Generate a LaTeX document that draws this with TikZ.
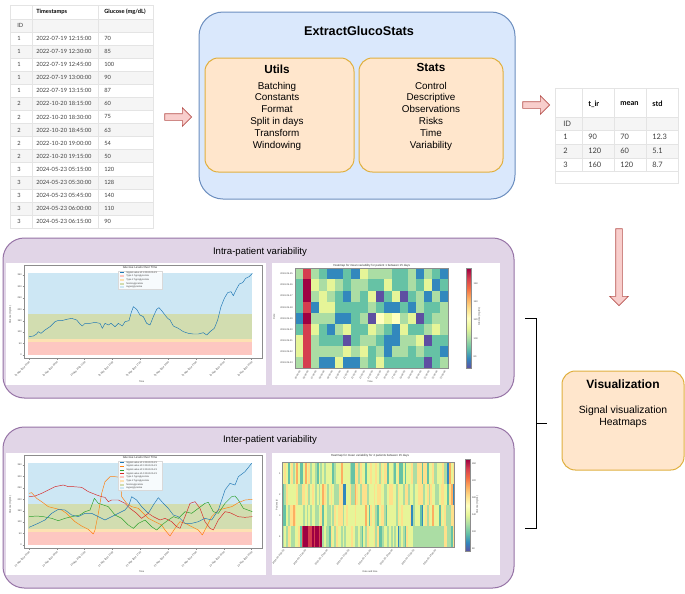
\documentclass[tikz,border=0pt]{standalone}
\usepackage{fontspec}
\setmainfont{Liberation Sans}
\newfontfamily\tblfont{Lato}
\usetikzlibrary{shapes.arrows}

\definecolor{egsfill}{HTML}{DAE8FC}
\definecolor{egsline}{HTML}{6C8EBF}
\definecolor{modfill}{HTML}{FFE6CC}
\definecolor{modline}{HTML}{E0B040}
\definecolor{panfill}{HTML}{E1D5E7}
\definecolor{panline}{HTML}{9673A6}
\definecolor{arrfill}{HTML}{F8CECC}
\definecolor{arrline}{HTML}{B85450}
\definecolor{rowgray}{HTML}{F5F5F5}
\definecolor{rowline}{HTML}{E4E4E4}
% glucose bands
\definecolor{hyper}{HTML}{CDE7F4}
\definecolor{normo}{HTML}{D2DDB0}
\definecolor{hypoa}{HTML}{FDE1B2}
\definecolor{hypob}{HTML}{FDC7C1}
\definecolor{sigA}{HTML}{1F77B4}
\definecolor{sigB}{HTML}{FF7F0E}
\definecolor{sigC}{HTML}{2CA02C}
\definecolor{sigD}{HTML}{D62728}
% spectral map, low to high
\definecolor{hm0}{HTML}{5E4FA2}
\definecolor{hm1}{HTML}{3288BD}
\definecolor{hm2}{HTML}{66C2A5}
\definecolor{hm3}{HTML}{ABDDA4}
\definecolor{hm4}{HTML}{E6F598}
\definecolor{hm5}{HTML}{FFFFBF}
\definecolor{hm6}{HTML}{FEE08B}
\definecolor{hm7}{HTML}{FDAE61}
\definecolor{hm8}{HTML}{F46D43}
\definecolor{hm9}{HTML}{D53E4F}
\definecolor{hm10}{HTML}{9E0142}
\pgfdeclareverticalshading{spectral}{100bp}{color(0bp)=(hm0); color(25bp)=(hm0);
  color(30bp)=(hm1); color(35bp)=(hm2); color(40bp)=(hm3); color(45bp)=(hm4);
  color(50bp)=(hm5); color(55bp)=(hm6); color(60bp)=(hm7); color(65bp)=(hm8);
  color(70bp)=(hm9); color(75bp)=(hm10); color(100bp)=(hm10)}

% axes and bands of a glucose plot, in zoom units
\newcommand{\glucoframe}[2]{%
  \fill[white] (3,9) rectangle (782,375);
  \fill[hyper] (70,38) rectangle (742,162);
  \fill[normo] (70,162) rectangle (742,237);
  \fill[hypoa] (70,237) rectangle (742,247);
  \fill[hypob] (70,247) rectangle (742,285);
  \draw[spine] (57,15) rectangle (772,295);
  \node[tinytitle] (#1-ttl) at (405,21) {Glucose Levels Over Time};
  \foreach \v [count=\j] in {0,50,...,350}{
    \draw[spine] (53,{285-0.686*\v}) -- (57,{285-0.686*\v});
    \node[tinytext, anchor=east] (#1-y\j) at (52,{285-0.686*\v}) {\v};
  }
  \foreach \k in {0,...,8}{
    \pgfmathtruncatemacro{\hh}{mod(#2+3*\k,24)}
    \draw[spine] ({72+83.5*\k},295) -- ++(0,4);
    \node[tinytext, rotate=45, anchor=north east] (#1-x\k) at ({72+83.5*\k},301) {23 May 2024 \ifnum\hh<10 0\fi\hh:00};
  }
  \node[tinytext] (#1-xl) at (410,364) {Time};
  \node[tinytext, rotate=90] (#1-yl) at (16,165) {Glucose (mg/dL)};
}

\begin{document}
\begin{tikzpicture}[x=0.75pt,y=-0.75pt,
    tbl/.style={font=\tblfont\fontsize{4.3}{5}\selectfont, text=black!75, anchor=west, inner sep=0pt},
    tblhead/.style={tbl, font=\tblfont\bfseries\fontsize{4.3}{5}\selectfont, text=black},
    rtbl/.style={tbl, font=\tblfont\fontsize{5.6}{6.5}\selectfont},
    rtblhead/.style={tbl, font=\tblfont\bfseries\fontsize{5.6}{6.5}\selectfont, text=black},
    rowsep/.style={draw=rowline, line width=0.4pt},
    egsbox/.style={draw=egsline, fill=egsfill, line width=0.75pt, rounded corners=18pt},
    modbox/.style={draw=modline, fill=modfill, line width=0.75pt, rounded corners=10pt},
    panel/.style={draw=panline, fill=panfill, line width=0.75pt, rounded corners=16pt},
    maintitle/.style={font=\bfseries\fontsize{9.5}{11}\selectfont},
    modtitle/.style={font=\bfseries\fontsize{8.8}{10}\selectfont},
    items/.style={font=\fontsize{7.4}{8.85}\selectfont, align=center},
    pantitle/.style={font=\fontsize{7.2}{8.5}\selectfont},
    blockarrow/.style={single arrow, draw=arrline, fill=arrfill, line width=0.5pt,
      inner sep=2.25pt, single arrow head extend=4.5pt, minimum width=13.5pt},
    bracket/.style={line width=0.75pt, black},
    spine/.style={draw=black!45, line width=0.3pt},
    tinytext/.style={font=\fontsize{1.8}{2}\selectfont, inner sep=0.3pt, text=black!75},
    tinytitle/.style={font=\fontsize{2.2}{2.5}\selectfont, inner sep=0.3pt, text=black!80},
    legbox/.style={draw=black!15, fill=white, fill opacity=0.85, line width=0.2pt},
    sig/.style={line width=0.35pt, line join=round},
  ]
  \fill[white] (0,0) rectangle (685,593);
  \useasboundingbox (0,0) rectangle (685,593);

  % input table
  \fill[white] (10,5) rectangle (153,228);
  \fill[rowgray] (10,19) rectangle (153,32);
  \foreach \i in {2,4,...,14} \fill[rowgray] (10,{32+(\i-1)*13.07}) rectangle (153,{32+\i*13.07});
  \foreach \i in {0,...,14} \draw[rowsep] (10,{32+\i*13.07}) -- (153,{32+\i*13.07});
  \draw[rowsep] (10,19) -- (153,19);
  \draw[rowsep] (32,5) -- (32,228) (98,5) -- (98,228);
  \draw[rowsep] (10,5) rectangle (153,228);
  \node[tblhead] (in-ts) at (36,12) {Timestamps};
  \node[tblhead] (in-gl) at (104,12) {Glucose (mg/dL)};
  \node[tbl] (in-id) at (17,25.5) {ID};
  \foreach \p/\ts/\g [count=\i] in {1/2022-07-19 12:15:00/70, 1/2022-07-19 12:30:00/85,
      1/2022-07-19 12:45:00/100, 1/2022-07-19 13:00:00/90, 1/2022-07-19 13:15:00/87,
      2/2022-10-20 18:15:00/60, 2/2022-10-20 18:30:00/75, 2/2022-10-20 18:45:00/63,
      2/2022-10-20 19:00:00/54, 2/2022-10-20 19:15:00/50, 3/2024-05-23 05:15:00/120,
      3/2024-05-23 05:30:00/128, 3/2024-05-23 05:45:00/140, 3/2024-05-23 06:00:00/110,
      3/2024-05-23 06:15:00/90}{
    \node[tbl] (in-p\i) at (17,{32+(\i-0.5)*13.07}) {\p};
    \node[tbl] (in-t\i) at (36,{32+(\i-0.5)*13.07}) {\ts};
    \node[tbl] (in-g\i) at (104,{32+(\i-0.5)*13.07}) {\g};
  }

  % package box
  \node[egsbox, minimum width=237pt, minimum height=140.25pt] (egs) at (357,105.5) {};
  \node[maintitle] (egs-t) at (359,31) {ExtractGlucoStats};
  \node[modbox, minimum width=111.75pt, minimum height=85.5pt] (utils) at (279.5,115) {};
  \node[modtitle] (utils-t) at (277,69) {Utils};
  \node[items] (utils-l) at (277,116) {Batching\\Constants\\Format\\Split in days\\Transform\\Windowing};
  \node[modbox, minimum width=108pt, minimum height=85.5pt] (stats) at (431,115) {};
  \node[modtitle] (stats-t) at (431,67) {Stats};
  \node[items] (stats-l) at (431,116) {Control\\Descriptive\\Observations\\Risks\\Time\\Variability};

  % output table
  \fill[white] (555,88) rectangle (678,183);
  \fill[rowgray] (555,117) rectangle (678,130);
  \fill[rowgray] (555,144) rectangle (678,158);
  \foreach \y in {117,130,144,158,171} \draw[rowsep] (555,\y) -- (678,\y);
  \draw[rowsep] (582,88) -- (582,171) (614,88) -- (614,171) (646,88) -- (646,171);
  \draw[rowsep] (555,88) rectangle (678,183);
  \node[rtblhead] (out-tir) at (588,104) {t\_ir};
  \node[rtblhead] (out-mean) at (620,104) {mean};
  \node[rtblhead] (out-std) at (652,104) {std};
  \node[rtbl] (out-id) at (563,123.5) {ID};
  \foreach \p/\a/\b/\s [count=\i] in {1/90/70/12.3, 2/120/60/5.1, 3/160/120/8.7}{
    \node[rtbl] (out-p\i) at (563,{123.5+13.7*\i}) {\p};
    \node[rtbl] (out-a\i) at (588,{123.5+13.7*\i}) {\a};
    \node[rtbl] (out-b\i) at (620,{123.5+13.7*\i}) {\b};
    \node[rtbl] (out-s\i) at (652,{123.5+13.7*\i}) {\s};
  }

  % flow arrows
  \node[blockarrow, minimum height=20.25pt] (arr-in) at (176.5,117) {};
  \node[blockarrow, minimum height=20.25pt] (arr-out) at (534.5,105) {};
  \node[blockarrow, minimum height=57.75pt, shape border rotate=270] (arr-down) at (619,265.5) {};

  % variability panels
  \node[panel, minimum width=383.25pt, minimum height=120pt] (intra) at (258.5,318) {};
  \node[pantitle] (intra-t) at (260,252) {Intra-patient variability};
  \node[panel, minimum width=383.25pt, minimum height=120.75pt] (inter) at (258.5,507.5) {};
  \node[pantitle] (inter-t) at (270,440) {Inter-patient variability};

  % intra: signal plot
  \begin{scope}[shift={(5,260)},x=0.25pt,y=-0.25pt]
    \glucoframe{ln1}{5}
    \draw[sig, sigA] plot coordinates {(72,230) (85,228) (95,222) (100,215) (108,220) (120,210)
      (135,200) (150,185) (158,182) (170,182) (185,178) (200,175) (215,180) (225,192) (232,198)
      (240,190) (255,190) (270,187) (285,190) (292,205) (300,190) (310,195) (318,190) (330,200)
      (340,190) (352,198) (360,185) (372,182) (378,160) (385,140) (395,148) (405,165) (415,170)
      (425,190) (435,195) (445,170) (455,148) (462,143) (470,152) (480,165) (488,175) (495,180)
      (505,198) (520,205) (535,215) (550,220) (565,222) (580,222) (595,218) (605,225) (615,215)
      (628,205) (638,180) (648,140) (658,115) (668,98) (678,95) (685,107) (693,90) (703,72)
      (713,68) (722,55) (732,50) (742,40)};
    \draw[legbox] (340,32) rectangle (470,88);
    \draw[sig, sigA] (345,38) -- (358,38);
    \node[tinytext, anchor=west] (ln1-l0) at (362,38) {Signal value id 1 2024-05-23};
    \foreach \c/\t [count=\j] in {hypob/Type 1 hypoglycemia, hypoa/Type 2 hypoglycemia,
        normo/Normoglycemia, hyper/Hyperglycemia}{
      \fill[fill=\c] (345,{38+11*\j-3}) rectangle ++(13,6);
      \node[tinytext, anchor=west] (ln1-l\j) at (362,{38+11*\j}) {\t};
    }
  \end{scope}

  % intra: heatmap
  \begin{scope}[shift={(270,260)},x=0.25pt,y=-0.25pt]
    \fill[white] (6,9) rectangle (690,375);
    \pgfmathsetseed{11}
    \foreach \c in {0,...,18}
      \foreach \r in {0,...,8}{
        \pgfmathtruncatemacro{\k}{max(0,min(10,round(2.3+1.4*(rand+rand))))}
        \ifnum\c=1 \pgfmathtruncatemacro{\k}{9+round(rnd)}\fi
        \fill[fill=hm\k] ({75+24.2*\c},{25+33.33*\r}) rectangle ++(24.4,33.5);
      }
    \draw[spine] (75,25) rectangle (535,325);
    \node[tinytitle] (hm1-ttl) at (305,17) {Heatmap for mean variability for patient 1 between 15 days};
    \foreach \r in {0,...,8}{
      \pgfmathtruncatemacro{\dd}{15+\r}
      \node[tinytext, anchor=east] (hm1-y\r) at (70,{41.7+33.33*\r}) {2024-05-\dd};
    }
    \foreach \c in {0,...,18}{
      \pgfmathtruncatemacro{\hh}{5+\c}
      \node[tinytext, rotate=60, anchor=north east] (hm1-x\c) at ({87+24.2*\c},328) {\ifnum\hh<10 0\fi\hh:00:00};
    }
    \node[tinytext] (hm1-xl) at (300,366) {Time};
    \node[tinytext, rotate=90] (hm1-yl) at (12,170) {Date};
    \shade[shading=spectral] (590,25) rectangle (605,325);
    \draw[spine] (590,25) rectangle (605,325);
    \foreach \v [count=\j] in {80,100,120,140,160}
      \node[tinytext, anchor=west] (hm1-c\j) at (609,{290-55*(\j-1)}) {\v};
    \node[tinytext, rotate=90] (hm1-cl) at (628,170) {Glucose (mg/dL)};
  \end{scope}

  % inter: signal plot
  \begin{scope}[shift={(5,450)},x=0.25pt,y=-0.25pt]
    \glucoframe{ln2}{5}
    \draw[sig, sigB] plot coordinates {(72,130) (80,128) (95,145) (110,155) (130,170) (150,175)
      (170,180) (185,190) (200,205) (210,215) (230,228) (250,238) (265,252) (270,240) (280,190)
      (290,130) (300,95) (315,80) (330,80) (345,82) (350,140) (365,160) (380,170) (400,175)
      (410,185) (430,205) (450,215) (470,225) (480,240) (495,258) (510,235) (525,215) (545,222)
      (560,230) (580,240) (592,255) (605,230) (620,200) (640,180) (660,175) (680,170) (700,158)
      (720,150) (742,148)};
    \draw[sig, sigC] plot coordinates {(72,200) (95,198) (115,200) (140,205) (160,212) (180,205)
      (200,200) (225,195) (240,185) (255,180) (268,145) (280,160) (295,165) (310,170) (330,195)
      (350,205) (370,225) (385,235) (400,220) (420,210) (440,230) (455,240) (470,225) (490,210)
      (505,200) (520,205) (540,185) (560,190) (580,175) (600,160) (610,157) (625,185) (640,190)
      (660,160) (680,140) (690,138) (700,150) (715,175) (742,185)};
    \draw[sig, sigD] plot coordinates {(72,140) (90,138) (110,130) (130,120) (150,110) (175,105)
      (190,110) (205,110) (230,112) (250,125) (275,135) (290,140) (300,142) (310,155) (320,150)
      (340,150) (360,160) (375,175) (395,190) (410,205) (430,190) (445,200) (465,210) (480,205)
      (500,215) (515,230) (525,235) (540,200) (555,160) (570,155) (585,175) (600,215) (615,235)
      (625,240) (640,210) (660,185) (675,188) (700,200) (720,202) (742,200)};
    \draw[sig, sigA] plot coordinates {(72,232) (95,222) (120,210) (140,190) (160,178) (180,180)
      (200,195) (220,200) (240,190) (260,190) (280,200) (300,210) (320,200) (340,190) (360,180)
      (372,165) (380,140) (395,150) (410,170) (430,190) (445,165) (460,143) (475,160) (490,175)
      (505,195) (520,200) (540,220) (560,220) (580,215) (600,205) (620,210) (640,180) (660,120)
      (675,100) (690,105) (700,80) (720,65) (740,40)};
    \draw[legbox] (340,32) rectangle (470,120);
    \foreach \c [count=\j] in {sigA,sigB,sigC,sigD}{
      \draw[sig, \c] (345,{27+11*\j}) -- (358,{27+11*\j});
      \node[tinytext, anchor=west] (ln2-s\j) at (362,{27+11*\j}) {Signal value id \j\ 2024-05-23};
    }
    \foreach \c/\t [count=\j] in {hypob/Type 1 hypoglycemia, hypoa/Type 2 hypoglycemia,
        normo/Normoglycemia, hyper/Hyperglycemia}{
      \fill[fill=\c] (345,{71+11*\j-3}) rectangle ++(13,6);
      \node[tinytext, anchor=west] (ln2-l\j) at (362,{71+11*\j}) {\t};
    }
  \end{scope}

  % inter: heatmap
  \begin{scope}[shift={(270,450)},x=0.25pt,y=-0.25pt]
    \fill[white] (6,9) rectangle (690,375);
    \pgfmathsetseed{5}
    \foreach \c in {0,...,99}
      \foreach \r in {0,...,3}{
        \pgfmathtruncatemacro{\k}{max(0,min(10,round(4+1.6*(rand+rand))))}
        \ifnum\k=5 \pgfmathtruncatemacro{\k}{4+2*round(rnd)}\fi
        \ifnum\r=3 \ifnum\c>10 \ifnum\c<23 \pgfmathtruncatemacro{\k}{9+round(rnd)}\fi\fi\fi
        \ifnum\r=3 \ifnum\c>75 \ifnum\c<94 \def\k{3}\fi\fi\fi
        \fill[fill=hm\k] ({38+5.15*\c},{38+63.5*\r}) rectangle ++(5.3,63.7);
      }
    \draw[spine] (38,38) rectangle (553,292);
    \node[tinytitle] (hm2-ttl) at (300,18) {Heatmap for mean variability for 4 patients between 15 days};
    \foreach \r in {0,...,3}{
      \pgfmathtruncatemacro{\pid}{\r+1}
      \node[tinytext, anchor=east] (hm2-y\r) at (33,{70+63.5*\r}) {\pid};
    }
    \foreach \c in {0,...,7}{
      \pgfmathtruncatemacro{\dd}{9+2*\c}
      \node[tinytext, rotate=50, anchor=north east] (hm2-x\c) at ({40+65*\c},296) {2024-05-\dd\ 06:00};
    }
    \node[tinytext] (hm2-xl) at (300,366) {Date and time};
    \node[tinytext, rotate=90] (hm2-yl) at (20,165) {Patient id};
    \shade[shading=spectral] (585,28) rectangle (600,305);
    \draw[spine] (585,28) rectangle (600,305);
    \foreach \v [count=\j] in {60,100,140,180,220,260}
      \node[tinytext, anchor=west] (hm2-c\j) at (604,{295-51*(\j-1)}) {\v};
    \node[tinytext, rotate=90] (hm2-cl) at (622,165) {Glucose (mg/dL)};
  \end{scope}

  % bracket to visualization
  \coordinate (br-top) at (525,318);
  \coordinate (br-bot) at (525,528);
  \coordinate (br-mid) at (547,423);
  \draw[bracket] (br-top) -- (536,318) -- (536,528) -- (br-bot);
  \draw[bracket] (536,423) -- (br-mid);

  \node[modbox, minimum width=91.5pt, minimum height=74.25pt] (vis) at (623,420.5) {};
  \node[modtitle, font=\bfseries\fontsize{9}{10}\selectfont] (vis-t) at (623,384) {Visualization};
  \node[items, font=\fontsize{7.8}{9}\selectfont] (vis-l) at (623,416.5) {Signal visualization\\Heatmaps};
\end{tikzpicture}
\end{document}
